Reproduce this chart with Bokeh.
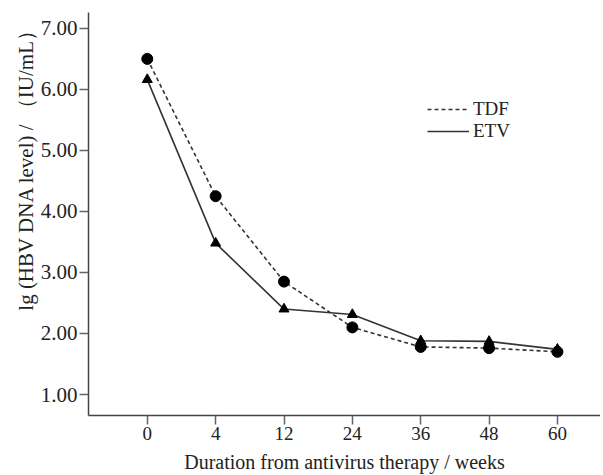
from bokeh.plotting import figure
from bokeh.models import Range1d, FixedTicker, Legend, LegendItem, Title
from bokeh.embed import file_html
from bokeh.resources import INLINE

weeks = ["0", "4", "12", "24", "36", "48", "60"]
tdf = [6.50, 4.25, 2.85, 2.10, 1.78, 1.76, 1.70]
etv = [6.16, 3.48, 2.40, 2.31, 1.88, 1.87, 1.74]
y_ticks = [1, 2, 3, 4, 5, 6, 7]

xs = list(range(len(weeks)))
FONT = "Liberation Serif"

p = figure(width=600, height=475, output_backend="svg", toolbar_location=None,
           x_range=Range1d(-0.86, 6.63), y_range=Range1d(0.656, 7.26),
           min_border_left=88, min_border_right=0, min_border_top=12, min_border_bottom=59)
p.outline_line_color = None
p.grid.visible = False
p.background_fill_color = "white"

l1 = p.line(xs, tdf, line_color="#333333", line_width=1.6, line_dash="4 3")
m1 = p.scatter(xs, tdf, marker="circle", size=11, fill_color="black", line_color="black")
l2 = p.line(xs, etv, line_color="#333333", line_width=1.6)
m2 = p.scatter(xs, etv, marker="triangle", size=10, fill_color="black", line_color="black")

for ax in (p.xaxis[0], p.yaxis[0]):
    ax.axis_line_color = "#444444"
    ax.axis_line_width = 1.5
    ax.major_tick_line_color = "#666666"
    ax.major_tick_line_width = 1.5
    ax.minor_tick_line_color = None
    ax.major_tick_in = 0
    ax.major_tick_out = 9
    ax.major_label_text_font = FONT
    ax.major_label_text_color = "#222222"
    ax.axis_label_text_font = FONT
    ax.axis_label_text_font_style = "normal"
    ax.axis_label_text_color = "#222222"

p.xaxis.ticker = FixedTicker(ticks=xs)
p.xaxis.major_label_overrides = {i: w for i, w in zip(xs, weeks)}
p.xaxis.major_label_text_font_size = "19px"
p.xaxis.axis_label = "Duration from antivirus therapy / weeks"
p.xaxis.axis_label_text_font_size = "20px"
p.xaxis.major_label_standoff = 2
p.xaxis.axis_label_standoff = 8

p.yaxis.ticker = FixedTicker(ticks=y_ticks)
p.yaxis.major_label_overrides = {t: f"{t:.2f}" for t in y_ticks}
p.yaxis.major_label_text_font_size = "21px"
p.yaxis.major_label_standoff = 2

ytitle = Title(text="lg (HBV DNA level) / （IU/mL）", align="right", offset=6,
               text_font=FONT, text_font_size="21px", text_font_style="normal",
               text_color="#222222", standoff=0)
p.add_layout(ytitle, "left")

legend = Legend(items=[LegendItem(label="TDF", renderers=[l1]),
                       LegendItem(label="ETV", renderers=[l2])],
                location=(339, 273), padding=0, margin=0, spacing=0,
                glyph_width=42, glyph_height=20, label_height=20, label_standoff=4,
                border_line_color=None, background_fill_alpha=0,
                label_text_font=FONT, label_text_font_size="19px",
                label_text_color="#222222")
p.add_layout(legend)

open("out.html", "w").write(file_html(p, INLINE))
